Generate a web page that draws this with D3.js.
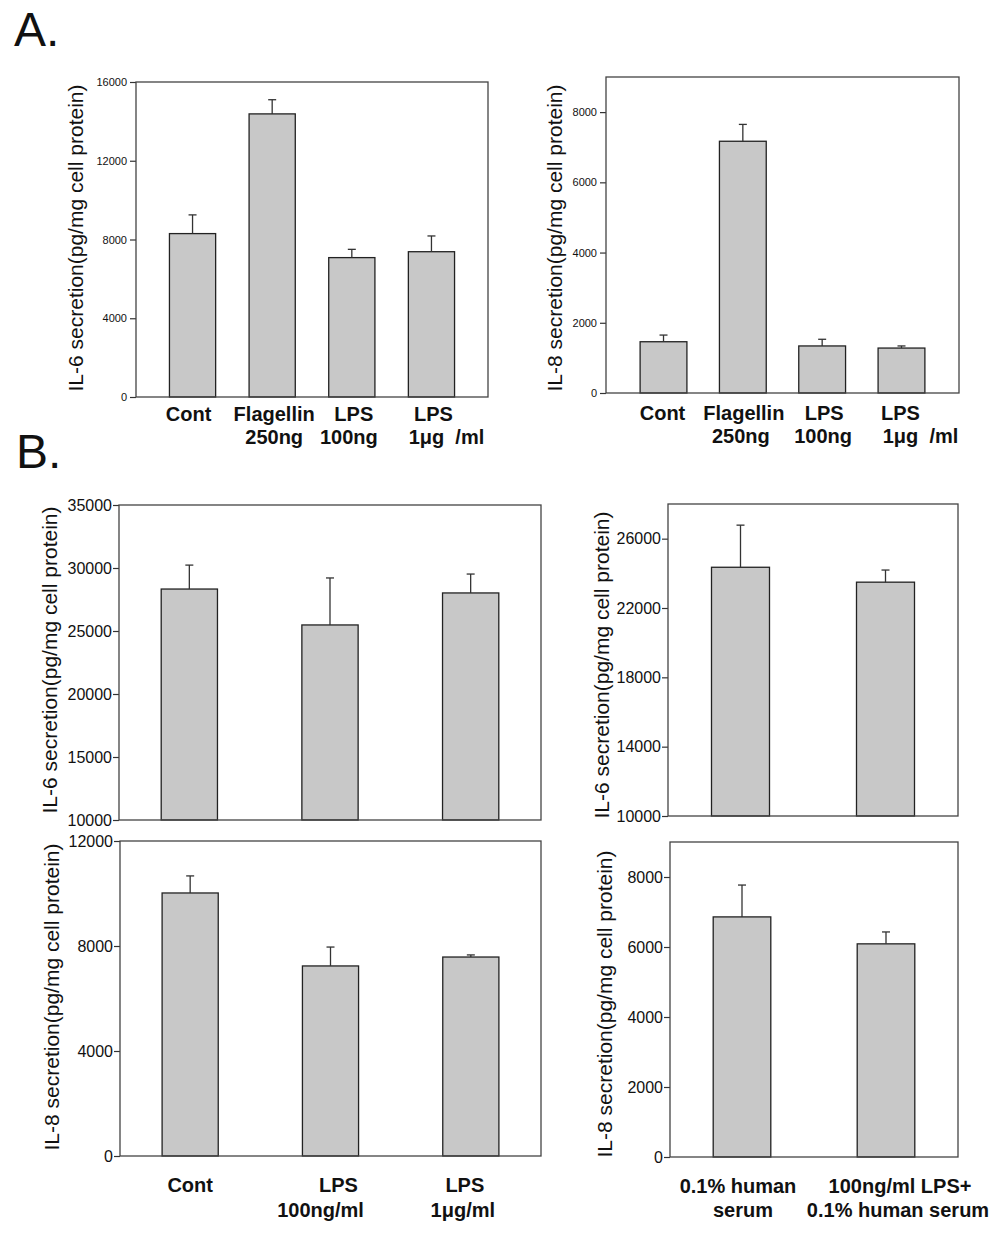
<!DOCTYPE html>
<html><head><meta charset="utf-8">
<script src="https://cdn.jsdelivr.net/npm/d3@7"></script>
<style>
body{margin:0;background:#fff}
svg{display:block}
text{font-family:"Liberation Sans",Arial,Helvetica,sans-serif}
</style>
</head><body>
<svg id="c" width="1004" height="1236"></svg>
<script>
// ---------- DATA ----------
// Panel A
const catsA = ["Cont", "Flagellin 250ng", "LPS 100ng", "LPS 1μg/ml"];
const labelsA = [["Cont"], ["Flagellin", "250ng"], ["LPS", "100ng"], ["LPS", "1μg  /ml"]];
const il6A = [8300, 14380, 7080, 7380];
const il6AErr = [950, 720, 420, 800];
const il8A = [1460, 7170, 1340, 1280];
const il8AErr = [190, 480, 190, 60];
const ticksIl6A = [0, 4000, 8000, 12000, 16000];
const ticksIl8A = [0, 2000, 4000, 6000, 8000];

// Panel B, left column
const catsB1 = ["Cont", "LPS 100ng/ml", "LPS 1μg/ml"];
const labelsB1 = [["Cont"], ["LPS", "100ng/ml"], ["LPS", "1μg/ml"]];
const il6B1 = [28330, 25480, 28020];
const il6B1Err = [1900, 3730, 1500];
const il8B1 = [10020, 7240, 7580];
const il8B1Err = [650, 720, 80];
const ticksIl6B1 = [10000, 15000, 20000, 25000, 30000, 35000];
const ticksIl8B1 = [0, 4000, 8000, 12000];

// Panel B, right column
const catsB2 = ["0.1% human serum", "100ng/ml LPS+ 0.1% human serum"];
const labelsB2 = [["0.1% human", "serum"], ["100ng/ml LPS+", "0.1% human serum"]];
const il6B2 = [24350, 23490];
const il6B2Err = [2430, 700];
const il8B2 = [6860, 6090];
const il8B2Err = [910, 340];
const ticksIl6B2 = [10000, 14000, 18000, 22000, 26000];
const ticksIl8B2 = [0, 2000, 4000, 6000, 8000];

const titleIL6 = "IL-6 secretion(pg/mg cell protein)";
const titleIL8 = "IL-8 secretion(pg/mg cell protein)";

// ---------- DRAWING ----------
const svg = d3.select("#c");

function panel(o) {
  const g = svg.append("g");
  const x = d3.scaleBand().domain(o.cats).range([o.x0, o.x1])
    .paddingInner(o.pi).paddingOuter(o.po);
  const y = d3.scaleLinear().domain(o.domain).range([o.y1, o.y0]);

  // axis
  const ax = g.append("g").attr("transform", `translate(${o.x0},0)`)
    .call(d3.axisLeft(y).tickValues(o.ticks).tickSize(6).tickPadding(o.tickPad).tickFormat(d3.format("d")));
  ax.select(".domain").remove();
  ax.selectAll(".tick line").attr("stroke", "#333").attr("stroke-width", 1.2);
  ax.selectAll("text").attr("font-size", o.tickFont).attr("fill", "#111")
    .style("font-family", '"Liberation Sans",Arial,sans-serif');

  // bars
  g.selectAll("rect.bar").data(o.values).join("rect").attr("class", "bar")
    .attr("x", (d, i) => x(o.cats[i]))
    .attr("width", x.bandwidth())
    .attr("y", d => y(d))
    .attr("height", d => y(o.domain[0]) - y(d))
    .attr("fill", "#c8c8c8").attr("stroke", "#222").attr("stroke-width", 1.3);

  // error bars (upper only)
  const eb = g.selectAll("g.err").data(o.values).join("g").attr("class", "err");
  eb.append("line")
    .attr("x1", (d, i) => x(o.cats[i]) + x.bandwidth() / 2)
    .attr("x2", (d, i) => x(o.cats[i]) + x.bandwidth() / 2)
    .attr("y1", d => y(d))
    .attr("y2", (d, i) => y(d + o.errs[i]))
    .attr("stroke", "#333").attr("stroke-width", 1.3);
  eb.append("line")
    .attr("x1", (d, i) => x(o.cats[i]) + x.bandwidth() / 2 - 4)
    .attr("x2", (d, i) => x(o.cats[i]) + x.bandwidth() / 2 + 4)
    .attr("y1", (d, i) => y(d + o.errs[i]))
    .attr("y2", (d, i) => y(d + o.errs[i]))
    .attr("stroke", "#333").attr("stroke-width", 1.3);

  // frame
  g.append("rect").attr("x", o.x0).attr("y", o.y0)
    .attr("width", o.x1 - o.x0).attr("height", o.y1 - o.y0)
    .attr("fill", "none").attr("stroke", "#444").attr("stroke-width", 1.3);

  // y title
  g.append("text")
    .attr("transform", `translate(${o.tx},${o.ty}) rotate(-90)`)
    .attr("text-anchor", "middle").attr("dominant-baseline", "central")
    .attr("font-size", 21).attr("fill", "#111")
    .text(o.title);

  // category labels
  if (o.labels) {
    o.labels.forEach((lines, i) => {
      const cx = x(o.cats[i]) + x.bandwidth() / 2;
      lines.forEach((t, j) => {
        g.append("text")
          .attr("x", cx + o.labDx[i][j])
          .attr("y", o.labY + j * o.lineH)
          .attr("text-anchor", "middle")
          .attr("font-size", 20).attr("font-weight", "bold").attr("fill", "#111")
          .attr("xml:space", "preserve")
          .text(t);
      });
    });
  }
}

// Panel A left (IL-6)
panel({cats: catsA, values: il6A, errs: il6AErr, domain: [0, 16000], ticks: ticksIl6A,
  x0: 136, x1: 488, y0: 82, y1: 397, pi: 0.42, po: 0.42, tickFont: 11, tickPad: 3,
  title: titleIL6, tx: 75, ty: 238,
  labels: labelsA, labY: 421, lineH: 23, labDx: [[-4], [2, 2], [2, -3], [2, 15]]});

// Panel A right (IL-8)
panel({cats: catsA, values: il8A, errs: il8AErr, domain: [0, 9000], ticks: ticksIl8A,
  x0: 606, x1: 959, y0: 77, y1: 393, pi: 0.41, po: 0.43, tickFont: 11, tickPad: 3,
  title: titleIL8, tx: 554, ty: 238,
  labels: labelsA, labY: 420, lineH: 23, labDx: [[-1], [1, -2], [2, 1], [-1, 19]]});

// Panel B top-left (IL-6)
panel({cats: catsB1, values: il6B1, errs: il6B1Err, domain: [10000, 35000], ticks: ticksIl6B1,
  x0: 119, x1: 541, y0: 505, y1: 820, pi: 0.6, po: 0.3, tickFont: 16, tickPad: 1,
  title: titleIL6, tx: 49, ty: 660});

// Panel B top-right (IL-6)
panel({cats: catsB2, values: il6B2, errs: il6B2Err, domain: [10000, 28000], ticks: ticksIl6B2,
  x0: 668, x1: 958, y0: 504, y1: 816, pi: 0.6, po: 0.3, tickFont: 16, tickPad: 1,
  title: titleIL6, tx: 601, ty: 665});

// Panel B bottom-left (IL-8)
panel({cats: catsB1, values: il8B1, errs: il8B1Err, domain: [0, 12000], ticks: ticksIl8B1,
  x0: 120, x1: 541, y0: 841, y1: 1156, pi: 0.6, po: 0.3, tickFont: 16, tickPad: 1,
  title: titleIL8, tx: 51, ty: 997,
  labels: labelsB1, labY: 1192, lineH: 25, labDx: [[0], [8, -10], [-6, -8]]});

// Panel B bottom-right (IL-8)
panel({cats: catsB2, values: il8B2, errs: il8B2Err, domain: [0, 9000], ticks: ticksIl8B2,
  x0: 670, x1: 958, y0: 842, y1: 1157, pi: 0.6, po: 0.3, tickFont: 16, tickPad: 1,
  title: titleIL8, tx: 604, ty: 1004,
  labels: labelsB2, labY: 1193, lineH: 24, labDx: [[-4, 1], [14, 12]]});

// Panel letters
svg.append("text").attr("x", 14).attr("y", 46).attr("font-size", 48).attr("fill", "#111").text("A.");
svg.append("text").attr("x", 16).attr("y", 468).attr("font-size", 48).attr("fill", "#111").text("B.");
</script>
</body></html>
